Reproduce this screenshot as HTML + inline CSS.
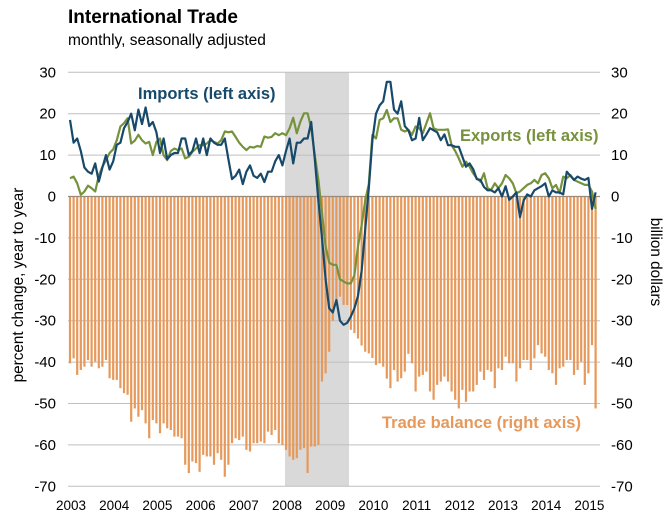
<!DOCTYPE html>
<html><head><meta charset="utf-8"><style>
body{margin:0;background:#fff;}
svg{display:block;font-family:"Liberation Sans",Arial,sans-serif;}
</style></head><body>
<svg id="chart" width="672" height="523" viewBox="0 0 672 523">
<text x="68" y="23" font-size="19" font-weight="bold" fill="#000">International Trade</text>
<text x="68" y="45" font-size="15.5" fill="#000">monthly, seasonally adjusted</text>
<rect x="285" y="72" width="64" height="414" fill="#D9D9D9"/>
<g id="grid"></g>
<g id="bars"></g>
<line x1="68" x2="600" y1="196.5" y2="196.5" stroke="#9C8A78" stroke-width="1.2"/>
<path id="exports" fill="none" stroke="#76923C" stroke-width="2.2" stroke-linejoin="round"/>
<path id="imports" fill="none" stroke="#17496B" stroke-width="2.2" stroke-linejoin="round"/>
<g id="ticks" font-size="15" fill="#000"></g>
<text transform="translate(23,285) rotate(-90)" text-anchor="middle" font-size="15.3">percent change, year to year</text>
<text transform="translate(651,262) rotate(90)" text-anchor="middle" font-size="15.3">billion  dollars</text>
<text x="138" y="99" font-size="16.5" font-weight="bold" fill="#17496B">Imports (left axis)</text>
<text x="460" y="141" font-size="16.5" font-weight="bold" fill="#76923C">Exports (left axis)</text>
<text x="382" y="428" font-size="16.5" font-weight="bold" fill="#E6995A">Trade balance  (right axis)</text>
</svg>
<script>
const years=["2003","2004","2005","2006","2007","2008","2009","2010","2011","2012","2013","2014","2015"];
const yTicks=[30,20,10,0,-10,-20,-30,-40,-50,-60,-70];
const imports=[18.5,13,14,11,7,6,5.5,8,3.6,7,10,6.5,
8.5,12.5,13,16.5,18,20,16,21,17.5,21.5,17,18,
15.5,10.5,14,9,10,10.5,10.5,14,14,10,11,14,
10.5,14,10,14,13,12.5,12.5,14,9,4.2,5,6.5,
3,6,7.5,5,4.5,5.5,3.5,6,6,8.5,10,7.5,
11,14,8,13,13,14,14,18,9,-1,-10,-20,
-27,-28,-25,-30,-31,-30.5,-29,-27,-24,-18,-8,2,
13.6,20,22,23,27.7,27.7,21,20,23,17,16,13.6,
14,19,13.6,15,16.5,16,15.5,13.6,15,12.4,12.4,12,
12,9.6,7.2,8,6.6,4.2,4,2.3,1.5,1.5,1,2,
0,2.5,-0.8,0,1,-5,-1,0.5,0,1.5,2,2.5,
3.2,0,1.5,1,1,0.5,6,5,4,4.8,4.3,4,
4.5,-3,1];
const exportsData=[4.4,4.8,3.2,0.4,1.2,2.6,2.0,1.2,5,7.2,8.8,10.5,
11.4,13.6,16.9,17.7,18.9,12.8,13.5,14.9,13.6,12.8,13.2,10,
13.2,14,10,8.8,11,11.6,11.2,11.6,9.2,9.6,10.8,11.6,
12.4,12.4,12.8,13.6,13.2,12.8,13.6,15.7,15.5,15.7,14.4,13,
12,11.2,12,11.8,12.2,12,14.5,14.2,14.4,15.3,14.8,15.3,
14.8,16.5,19,15.3,18.1,20.1,20.1,16.5,10,4,-4,-12,
-16,-16.5,-16.5,-20,-20.5,-21,-21,-19,-12,-7,-1,3,
14.9,14,18.5,18.9,20.9,18,18.9,18.9,16.1,15.7,16.1,14.9,
16.9,16.5,15.3,17.7,20.1,16.5,16.1,16.1,16.1,16.2,12.4,11,
9.2,7.2,8.4,7.2,5.6,4.4,3.6,5.6,2,1.6,3.2,2,
3.2,5.2,4.4,3.2,0.8,1.2,2,2.8,3.2,4,3.2,5.2,
5.6,4.4,2,2.8,0.8,4.8,4.4,5.2,4,3.6,3.2,2.8,
2.8,1.2,-3];
const balance=[-40.3,-39.1,-43.1,-41.9,-41.1,-39.5,-41.1,-39.9,-41.5,-41.1,-39.5,-43.9,
-44.3,-44.3,-46.3,-47.5,-47.9,-54.4,-51.2,-53.2,-51.6,-54.8,-58.4,-54,
-54.8,-57.2,-54.8,-56,-56.4,-58,-58,-58.4,-64.8,-66.8,-64,-64.4,
-66.5,-62.4,-62.8,-62.8,-64.8,-62,-63.6,-67.7,-64.8,-59.6,-58.4,-58.8,
-58,-61.2,-61.6,-59.6,-59.6,-59.2,-59.6,-56.8,-57.6,-56.4,-59.6,-60,
-61.2,-62.8,-63.6,-63.2,-61.2,-60.8,-66.8,-60.4,-60.4,-60,-44.7,-42.7,
-37.5,-30,-25,-24.2,-26.2,-26.2,-32.2,-33,-34.3,-36,-37.5,-37.9,
-39,-40.7,-40.3,-41.1,-44,-46.3,-41.9,-44.7,-43.9,-42.3,-38,-40.3,
-47.1,-43.5,-43.1,-42.3,-47.1,-49.1,-45.5,-44.7,-43.5,-44.7,-47.1,-49.1,
-51.2,-46.7,-49.6,-47.1,-47.1,-45.5,-42.3,-44.3,-41.9,-42.3,-46.3,-41.5,
-41.9,-38.7,-40.3,-40.3,-44.7,-41.5,-39.5,-39.5,-41.9,-39.1,-35.9,-37.9,
-38.7,-41.9,-42.7,-45.5,-41.5,-41.1,-39.5,-39.5,-43.1,-41.9,-39.9,-45.5,
-42.7,-35.9,-51.2];

const NS="http://www.w3.org/2000/svg";
function xS(i){return 70+i*3.6;}
function yS(v){return 196.5-v*4.14;}
const grid=document.getElementById('grid');
const ticks=document.getElementById('ticks');
yTicks.forEach(t=>{
  if(t!==0){
    const l=document.createElementNS(NS,'line');
    
    
    l.setAttribute('x1',68);l.setAttribute('x2',600);
    l.setAttribute('y1',yS(t));l.setAttribute('y2',yS(t));
    l.setAttribute('stroke','#BFBFBF');l.setAttribute('stroke-width','1');
    grid.appendChild(l);
  }
  const a=document.createElementNS(NS,'text');
  
  
  a.setAttribute('x',56);a.setAttribute('y',yS(t)+5);a.setAttribute('text-anchor','end');
  a.textContent=t;ticks.appendChild(a);
  const b=document.createElementNS(NS,'text');
  
  
  b.setAttribute('x',611);b.setAttribute('y',yS(t)+5);
  b.textContent=t;ticks.appendChild(b);
});
years.forEach((y,k)=>{
  const t=document.createElementNS(NS,'text');
  
  
  t.setAttribute('x',xS(k*12)+1);t.setAttribute('y',510);t.setAttribute('text-anchor','middle');
  t.setAttribute('font-size','13.5');
  t.textContent=y;ticks.appendChild(t);
});
const bars=document.getElementById('bars');
balance.forEach((v,i)=>{
  const r=document.createElementNS(NS,'rect');
  
  
  const y0=yS(0),y1=yS(v);
  r.setAttribute('x',xS(i)-1.1);r.setAttribute('width',2.2);
  r.setAttribute('y',Math.min(y0,y1));r.setAttribute('height',Math.abs(y1-y0));
  r.setAttribute('fill','#E6995A');
  bars.appendChild(r);
});
function path(d){return d.map((v,i)=>(i?'L':'M')+xS(i).toFixed(1)+','+yS(v).toFixed(1)).join('');}
document.getElementById('imports').setAttribute('d',path(imports));
document.getElementById('exports').setAttribute('d',path(exportsData));
</script>
</body></html>
